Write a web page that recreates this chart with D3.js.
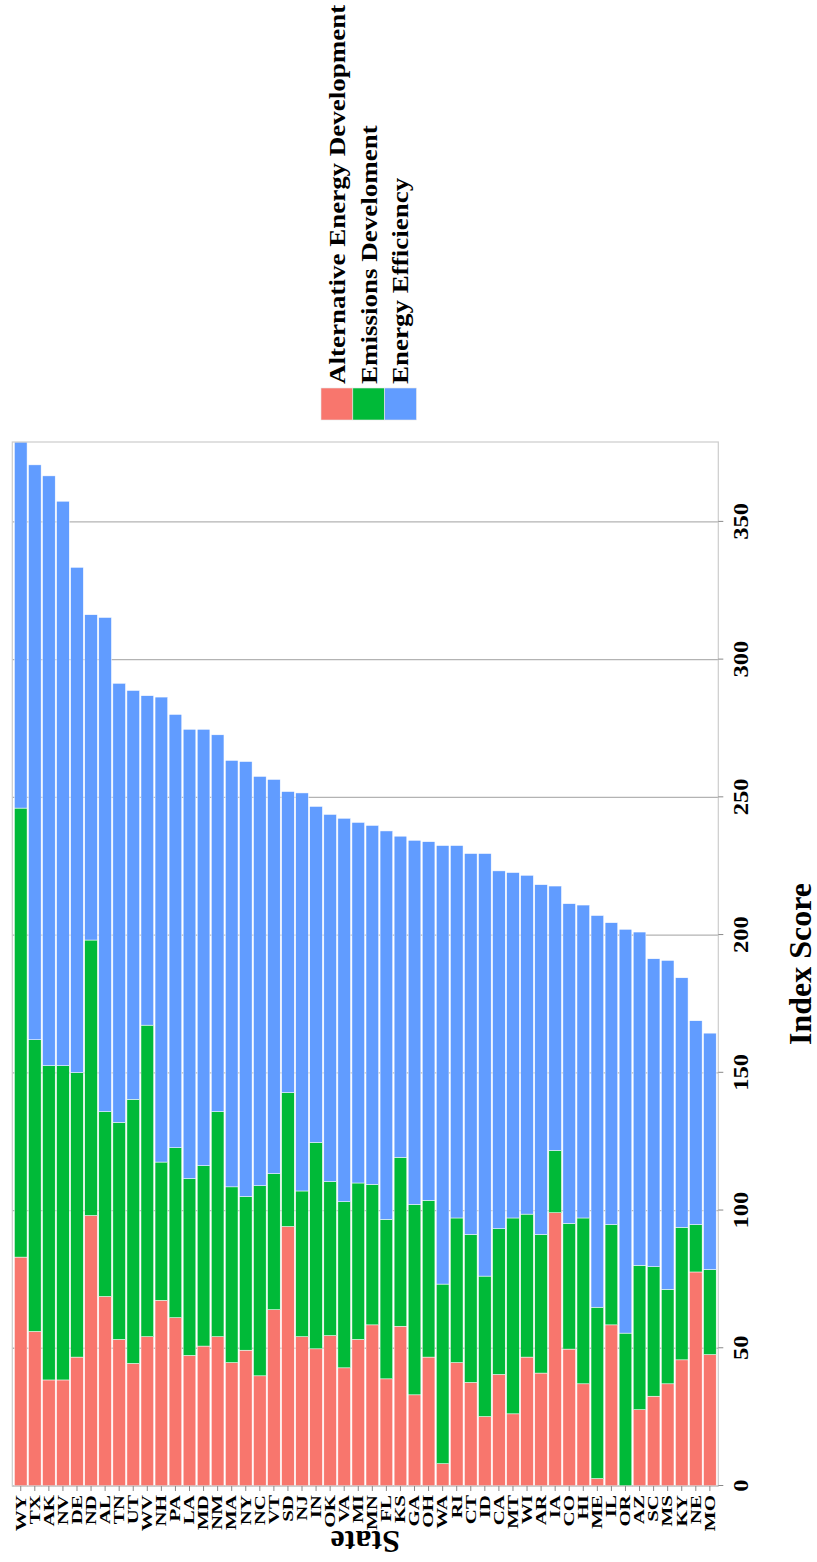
<!DOCTYPE html>
<html><head><meta charset="utf-8">
<script src="https://cdn.jsdelivr.net/npm/d3@7"></script>
<style>
body{margin:0;background:#fff}
svg{display:block}
text{font-family:"Liberation Serif","Times New Roman",serif;font-weight:bold;fill:#000}
</style>
</head><body>
<svg id="chart" width="817" height="1562"></svg>
<script>
const states = ["WY","TX","AK","NV","DE","ND","AL","TN","UT","WV","NH","PA","LA","MD","NM","MA","NY","NC","VT","SD","NJ","IN","OK","VA","MI","MN","FL","KS","GA","OH","WA","RI","CT","ID","CA","MT","WI","AR","IA","CO","HI","ME","IL","OR","AZ","SC","MS","KY","NE","MO"];
const altEnergy = [83.1,56.1,38.5,38.5,46.8,98.2,68.8,53.2,44.5,54.2,67.4,61.1,47.4,50.8,54.2,44.8,49.3,40.0,64.0,94.2,54.2,49.8,54.6,42.9,53.2,58.5,38.9,58.0,33.1,46.8,8.1,44.8,37.6,25.2,40.5,26.2,46.8,41.0,99.2,49.7,37.1,2.7,58.5,0,27.7,32.6,37.1,45.8,77.7,47.7];
const emissionsDev = [163.0,105.9,114.1,114.1,103.3,100.0,67.1,78.8,95.9,113.1,50.2,61.7,64.2,65.5,81.7,63.8,55.8,69.0,49.4,48.6,52.9,74.9,55.9,60.3,56.8,51.0,57.9,61.3,69.1,56.9,65.2,52.5,53.7,51.0,52.9,71.1,51.9,50.3,22.6,45.6,60.2,62.2,36.4,55.5,52.4,47.0,34.3,48.1,17.2,30.9];
const energyEff = [132.9,208.7,214.1,204.9,183.4,118.1,179.4,159.4,148.4,119.6,168.8,157.3,163.1,158.4,136.8,154.8,157.9,148.6,143.1,109.3,144.5,122.0,133.3,139.2,130.9,130.3,141.0,116.6,132.2,130.2,159.2,135.2,138.3,153.4,129.9,125.4,123.0,127.0,96.0,116.1,113.6,142.2,109.6,146.6,121.0,111.8,119.4,90.6,74.0,85.8];
const seriesNames = ["Alternative Energy Development","Emissions Develoment","Energy Efficiency"];
const seriesColors = ["#F8766D","#00BA38","#619CFF"];
const tickValues = [0,50,100,150,200,250,300,350];
const xTitle = "Index Score";
const yTitle = "State";

const svg = d3.select("#chart");
// chart is drawn in landscape frame (1562 x 817) and rotated
const g = svg.append("g").attr("transform","translate(0,1562) rotate(-90)");
const P = {x0:76, x1:1120, y0:12.3, y1:718.3};

const keys = ["a","e","f"];
const data = states.map((s,i)=>({state:s,a:altEnergy[i],e:emissionsDev[i],f:energyEff[i]}));
const stacked = d3.stack().keys(keys)(data);
const xMax = d3.max(data,d=>d.a+d.e+d.f);
const x = d3.scaleLinear().domain([0,xMax]).range([P.x0,P.x1]);
const y = d3.scaleBand().domain(states).range([P.y0,P.y1]).paddingInner(0.1).paddingOuter(0.15);

// gridlines
g.append("g").selectAll("line").data(tickValues).join("line")
  .attr("x1",d=>x(d)).attr("x2",d=>x(d)).attr("y1",P.y0).attr("y2",P.y1)
  .attr("stroke","#b3b3b3").attr("stroke-width",1.3);

// bars
g.append("g").selectAll("g").data(stacked).join("g")
  .attr("fill",(d,i)=>seriesColors[i])
  .selectAll("rect").data(d=>d).join("rect")
  .attr("x",d=>x(d[0])).attr("width",d=>Math.max(0,x(d[1])-x(d[0])))
  .attr("y",d=>y(d.data.state)).attr("height",y.bandwidth())
  .attr("stroke","#ffffff").attr("stroke-width",0.5);

// panel border
g.append("rect").attr("x",P.x0).attr("y",P.y0).attr("width",P.x1-P.x0).attr("height",P.y1-P.y0)
  .attr("fill","none").attr("stroke","#cccccc").attr("stroke-width",1.2);

// value axis
const tickStretch = 1.2;
const xAxis = g.append("g").attr("transform",`translate(0,${P.y1})`)
  .call(d3.axisBottom(x).tickValues(tickValues).tickSize(5).tickPadding(10).tickFormat(d3.format("d")));
xAxis.select(".domain").remove();
xAxis.selectAll(".tick line").attr("stroke","#888");
xAxis.selectAll(".tick text").style("font-size","20.5px").attr("fill","#000")
  .attr("transform",`scale(${tickStretch},1)`);

// state axis
const stateStretch = 1.4;
const yAxis = g.append("g").attr("transform",`translate(${P.x0},0)`)
  .call(d3.axisLeft(y).tickSize(5).tickPadding(4));
yAxis.select(".domain").remove();
yAxis.selectAll(".tick line").attr("stroke","#888");
yAxis.selectAll(".tick text").style("font-size","15px").attr("fill","#000")
  .attr("x",-9/stateStretch).attr("transform",`scale(${stateStretch},1)`);

// titles
g.append("text").attr("x",(P.x0+P.x1)/2).attr("y",811).attr("text-anchor","middle")
  .style("font-size","32px").text(xTitle);
g.append("text").attr("transform",`translate(31,${(P.y0+P.y1)/2}) rotate(-90)`).attr("text-anchor","middle")
  .style("font-size","32px").text(yTitle);

// legend
const legendStretch = 1.2;
const lg = g.append("g").attr("transform","translate(1142,321)");
const keyH = 31.8;
seriesNames.forEach((name,i)=>{
  lg.append("rect").attr("x",0).attr("y",i*keyH).attr("width",32).attr("height",keyH)
    .attr("fill",seriesColors[i]).attr("stroke","#e6e6e6").attr("stroke-width",0.6);
  lg.append("text").attr("transform",`translate(36,${i*keyH+keyH/2}) scale(${legendStretch},1)`)
    .attr("dy","0.35em").style("font-size","22.5px").text(name);
});
</script>
</body></html>
